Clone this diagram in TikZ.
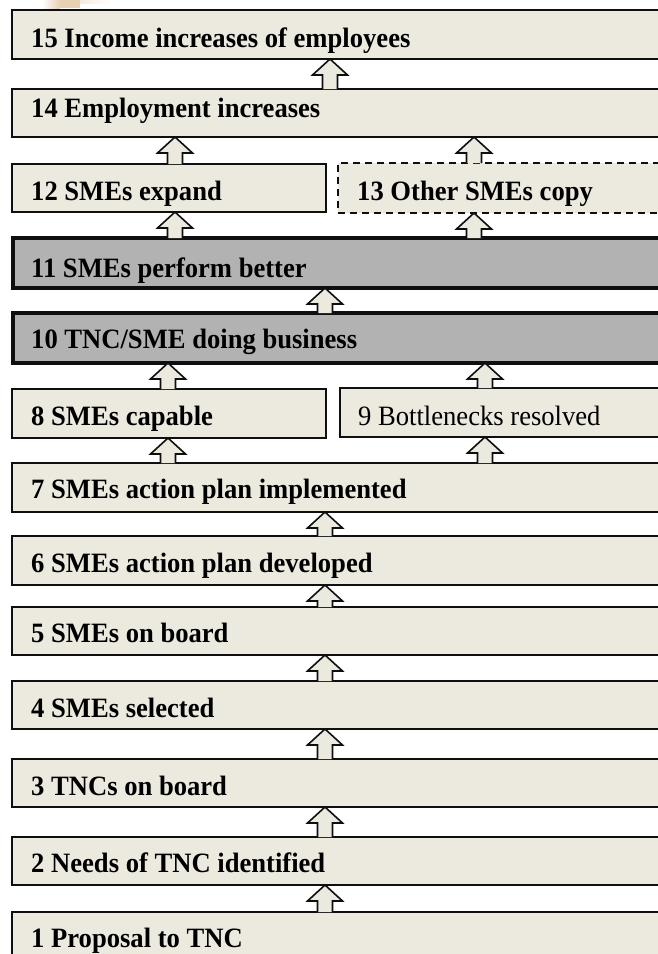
\documentclass[tikz,border=0pt]{standalone}
\usepackage{fontspec}
\setmainfont[FakeStretch=0.95]{Liberation Serif}
\usetikzlibrary{calc}
\definecolor{beige}{RGB}{236,233,222}
\definecolor{greybox}{RGB}{178,178,178}
\definecolor{edge}{RGB}{15,15,15}
\definecolor{tan}{RGB}{232,208,178}
\tikzset{
  box/.style={draw=edge, fill=beige, line width=1.6pt, rectangle, inner sep=0pt, outer sep=0pt, anchor=north west, minimum width=#1},
  box/.default=700pt,
  thickbox/.style={box, fill=greybox, line width=3.8pt},
  dashbox/.style={box=#1, line width=1.4pt, dash pattern=on 7pt off 5pt},
  lbl/.style={inner sep=0pt, anchor=base west, font=\fontsize{28}{32}\selectfont\bfseries},
  lblr/.style={inner sep=0pt, anchor=base west, font=\fontsize{28}{32}\selectfont},
  arr/.style={draw=edge, fill=beige, line width=1.6pt, line join=miter}
}
\newcommand{\uparr}[3]{%
  \path[arr] let \p1=(#2.north), \p2=(#3.south) in
    (#1pt-7.5pt,\y1) -- (#1pt-7.5pt,\y2-16pt) -- (#1pt-17.5pt,\y2-16pt) -- (#1pt,\y2)
    -- (#1pt+17.5pt,\y2-16pt) -- (#1pt+7.5pt,\y2-16pt) -- (#1pt+7.5pt,\y1);}
\begin{document}
\begin{tikzpicture}[x=1pt,y=-1pt]
\path[use as bounding box, clip] (0,0) rectangle (658,954);
\fill[white] (0,0) rectangle (658,954);
% faint watermark fragment
\shade[left color=white, right color=tan] (42,0) rectangle (60,8);
\fill[tan] (60,0) rectangle (80,8);
\shade[left color=tan, right color=white, opacity=0.4] (80,0) rectangle (110,3);

% boxes
\node[box, minimum height=49pt] (b15) at (12,10) {};
\node[box, minimum height=48pt] (b14) at (12,89) {};
\node[box=314pt, minimum height=48pt] (b12) at (12,164) {};
\node[dashbox=400pt, minimum height=50pt] (b13) at (338,163) {};
\node[thickbox, minimum height=50pt] (b11) at (13,238) {};
\node[thickbox, minimum height=50pt] (b10) at (13,313) {};
\node[box=314pt, minimum height=49pt] (b8) at (12,389) {};
\node[box=400pt, minimum height=49pt] (b9) at (340,388) {};
\node[box, minimum height=49pt] (b7) at (12,463) {};
\node[box, minimum height=49pt] (b6) at (12,536) {};
\node[box, minimum height=48pt] (b5) at (12,607) {};
\node[box, minimum height=48pt] (b4) at (12,681) {};
\node[box, minimum height=48pt] (b3) at (12,759) {};
\node[box, minimum height=48pt] (b2) at (12,837) {};
\node[box, minimum height=60pt] (b1) at (12,912) {};

% labels
\node[lbl] (l15) at (31,47) {15 Income increases of employees};
\node[lbl] (l14) at (31,117) {14 Employment increases};
\node[lbl] (l12) at (31,200) {12 SMEs expand};
\node[lbl] (l13) at (357,200) {13 Other SMEs copy};
\node[lbl] (l11) at (31,277) {11 SMEs perform better};
\node[lbl] (l10) at (31,348) {10 TNC/SME doing business};
\node[lbl] (l8) at (31,425) {8 SMEs capable};
\node[lblr] (l9) at (358,425) {9 Bottlenecks resolved};
\node[lbl] (l7) at (31,498) {7 SMEs action plan implemented};
\node[lbl] (l6) at (31,572) {6 SMEs action plan developed};
\node[lbl] (l5) at (31,642) {5 SMEs on board};
\node[lbl] (l4) at (31,717) {4 SMEs selected};
\node[lbl] (l3) at (31,795) {3 TNCs on board};
\node[lbl] (l2) at (31,872) {2 Needs of TNC identified};
\node[lbl] (l1) at (31,947) {1 Proposal to TNC};

% arrows
\uparr{330}{b14}{b15}
\uparr{175}{b12}{b14}
\uparr{474}{b13}{b14}
\uparr{175}{b11}{b12}
\uparr{474}{b11}{b13}
\uparr{325}{b10}{b11}
\uparr{168}{b8}{b10}
\uparr{485}{b9}{b10}
\uparr{168}{b7}{b8}
\uparr{485}{b7}{b9}
\uparr{325}{b6}{b7}
\uparr{325}{b5}{b6}
\uparr{325}{b4}{b5}
\uparr{325}{b3}{b4}
\uparr{325}{b2}{b3}
\uparr{325}{b1}{b2}
\end{tikzpicture}
\end{document}
